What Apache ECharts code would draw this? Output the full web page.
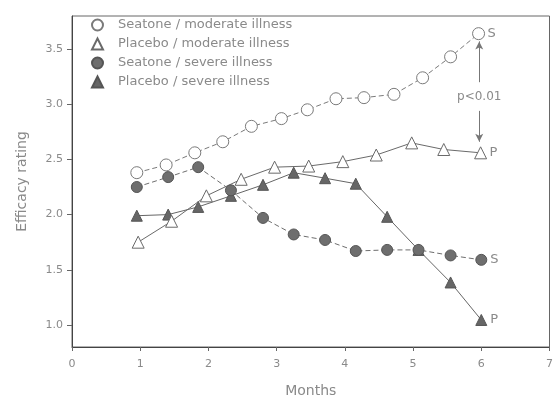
<!DOCTYPE html>
<html>
<head>
<meta charset="utf-8">
<script src="https://cdn.jsdelivr.net/npm/echarts@6/dist/echarts.min.js"></script>
<style>
html,body{margin:0;padding:0;background:#fff;}
#chart{width:556px;height:403px;}
</style>
</head>
<body>
<div id="chart"></div>
<script>
// ---- data ----
const seriesNames = ['Seatone / moderate illness', 'Placebo / moderate illness', 'Seatone / severe illness', 'Placebo / severe illness'];

const seatoneModMonths = [0.95, 1.38, 1.8, 2.21, 2.63, 3.07, 3.45, 3.87, 4.28, 4.72, 5.14, 5.55, 5.96];
const seatoneModRating = [2.38, 2.45, 2.56, 2.66, 2.80, 2.87, 2.95, 3.05, 3.06, 3.09, 3.24, 3.43, 3.64];

const placeboModMonths = [0.97, 1.46, 1.97, 2.48, 2.97, 3.47, 3.97, 4.46, 4.98, 5.45, 5.99];
const placeboModRating = [1.75, 1.94, 2.17, 2.32, 2.43, 2.44, 2.48, 2.54, 2.65, 2.59, 2.56];

const severeMonths = [0.95, 1.41, 1.85, 2.33, 2.8, 3.25, 3.71, 4.16, 4.62, 5.08, 5.55, 6.0];
const seatoneSevRating = [2.25, 2.34, 2.43, 2.22, 1.97, 1.82, 1.77, 1.67, 1.68, 1.68, 1.63, 1.59];
const placeboSevRating = [1.99, 2.0, 2.07, 2.17, 2.27, 2.38, 2.33, 2.28, 1.98, 1.68, 1.385, 1.045];

const endLabels = ['S', 'P', 'S', 'P'];
const yTickValues = [1.0, 1.5, 2.0, 2.5, 3.0, 3.5];
const xTickValues = [0, 1, 2, 3, 4, 5, 6, 7];
const pText = 'p<0.01';
const pArrowX = 5.97;
const pArrowUp = [3.2, 3.57];
const pArrowDown = [2.94, 2.66];
const pTextY = 3.07;

const zip = (xs, ys) => xs.map((x, i) => [x, ys[i]]);

const FONT = 'DejaVu Sans';
const TXT = '#8a8a8a';

const chart = echarts.init(document.getElementById('chart'), null, {renderer: 'canvas'});

const endLabelStyle = (txt) => ({
  show: true, formatter: txt, color: TXT, fontFamily: FONT, fontSize: 13, distance: 9
});

chart.setOption({
  animation: false,
  backgroundColor: '#fff',
  grid: {left: 72, right: 5, top: 16, bottom: 51, show: true, borderColor: '#666', borderWidth: 1, backgroundColor: 'transparent'},
  legend: {
    orient: 'vertical', left: 91, top: 18, padding: 0, itemWidth: 11, itemHeight: 11, itemGap: 5,
    textStyle: {color: TXT, fontFamily: FONT, fontSize: 13, padding: [0, 0, 0, 10], lineHeight: 14},
    selectedMode: false,
    data: [
      {name: seriesNames[0], icon: 'circle'},
      {name: seriesNames[1], icon: 'triangle'},
      {name: seriesNames[2], icon: 'circle'},
      {name: seriesNames[3], icon: 'triangle'}
    ]
  },
  xAxis: {
    type: 'value', min: 0, max: 7, interval: 1,
    name: 'Months', nameLocation: 'middle', nameGap: 37,
    nameTextStyle: {color: TXT, fontFamily: FONT, fontSize: 14},
    axisLine: {show: true, lineStyle: {color: '#444', width: 1}},
    axisTick: {show: true, length: 4, lineStyle: {color: '#666'}},
    axisLabel: {color: TXT, fontFamily: FONT, fontSize: 11, margin: 12},
    splitLine: {show: false}
  },
  yAxis: {
    type: 'value', min: 0.8, max: 3.8,
    name: 'Efficacy rating', nameLocation: 'middle', nameGap: 43, nameRotate: 90,
    nameTextStyle: {color: TXT, fontFamily: FONT, fontSize: 14},
    axisLine: {show: true, lineStyle: {color: '#444', width: 1}},
    axisTick: {show: true, length: 5, customValues: yTickValues, lineStyle: {color: '#666'}},
    axisLabel: {customValues: yTickValues, formatter: v => Number(v).toFixed(1), color: TXT, fontFamily: FONT, fontSize: 11, margin: 9},
    splitLine: {show: false}
  },
  series: [
    {
      name: seriesNames[0], type: 'line', data: zip(seatoneModMonths, seatoneModRating),
      symbol: 'circle', symbolSize: 12, z: 3,
      itemStyle: {color: '#fff', borderColor: '#7a7a7a', borderWidth: 1},
      lineStyle: {color: '#7a7a7a', width: 1, type: [5, 3]},
      endLabel: endLabelStyle(endLabels[0]),
      markLine: {
        silent: true, symbol: ['none', 'arrow'], symbolSize: [6, 8],
        lineStyle: {color: '#777', width: 1, type: 'solid'},
        label: {show: false},
        data: [
          [{coord: [pArrowX, pArrowUp[0]]}, {coord: [pArrowX, pArrowUp[1]]}],
          [{coord: [pArrowX, pArrowDown[0]]}, {coord: [pArrowX, pArrowDown[1]]}]
        ]
      },
      markPoint: {
        silent: true, symbol: 'circle', symbolSize: 1, itemStyle: {color: 'transparent'},
        label: {show: true, position: 'inside', formatter: pText, color: TXT, fontFamily: FONT, fontSize: 12},
        data: [{coord: [pArrowX, pTextY], value: 0}]
      }
    },
    {
      name: seriesNames[1], type: 'line', data: zip(placeboModMonths, placeboModRating),
      symbol: 'triangle', symbolSize: 12, z: 3,
      itemStyle: {color: '#fff', borderColor: '#6a6a6a', borderWidth: 1},
      lineStyle: {color: '#6a6a6a', width: 1},
      endLabel: endLabelStyle(endLabels[1])
    },
    {
      name: seriesNames[2], type: 'line', data: zip(severeMonths, seatoneSevRating),
      symbol: 'circle', symbolSize: 11, z: 4,
      itemStyle: {color: '#6e6e6e', borderColor: '#555', borderWidth: 1},
      lineStyle: {color: '#6e6e6e', width: 1, type: [5, 3]},
      endLabel: endLabelStyle(endLabels[2])
    },
    {
      name: seriesNames[3], type: 'line', data: zip(severeMonths, placeboSevRating),
      symbol: 'triangle', symbolSize: 11, z: 2,
      itemStyle: {color: '#666', borderColor: '#555', borderWidth: 1},
      lineStyle: {color: '#666', width: 1},
      endLabel: endLabelStyle(endLabels[3])
    }
  ]
});
</script>
</body>
</html>
